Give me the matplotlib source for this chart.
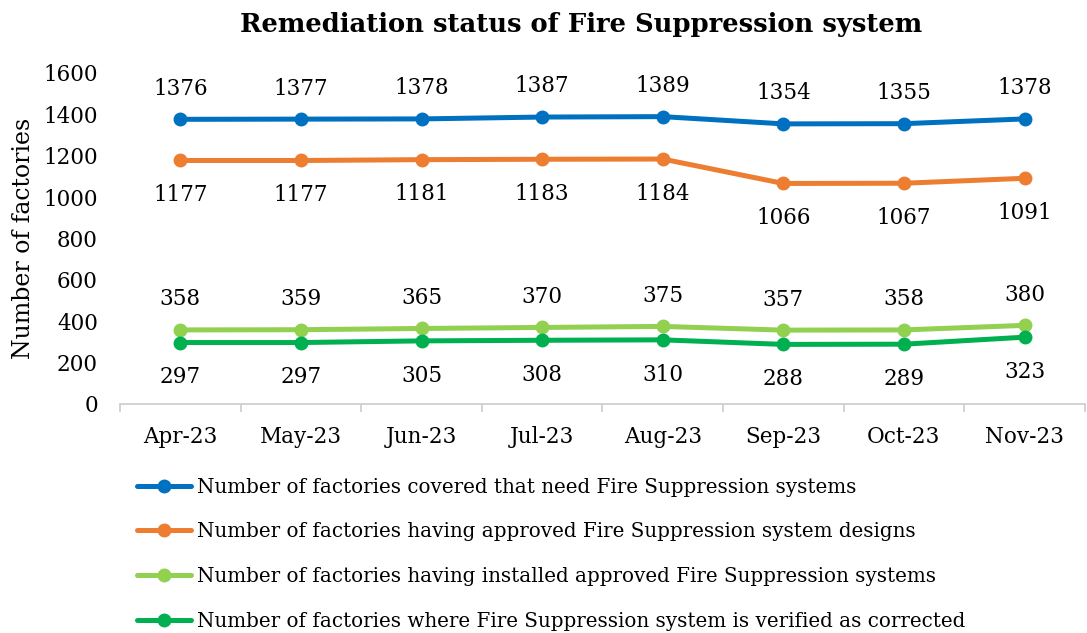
import matplotlib
matplotlib.use("Agg")
import matplotlib.pyplot as plt
import numpy as np

months = ["Apr-23", "May-23", "Jun-23", "Jul-23", "Aug-23", "Sep-23", "Oct-23", "Nov-23"]
covered = [1376, 1377, 1378, 1387, 1389, 1354, 1355, 1378]
approved = [1177, 1177, 1181, 1183, 1184, 1066, 1067, 1091]
installed = [358, 359, 365, 370, 375, 357, 358, 380]
verified = [297, 297, 305, 308, 310, 288, 289, 323]
series_names = [
    "Number of factories covered that need Fire Suppression systems",
    "Number of factories having approved Fire Suppression system designs",
    "Number of factories having installed approved Fire Suppression systems",
    "Number of factories where Fire Suppression system is verified as corrected",
]
colors = ["#0070C0", "#ED7D31", "#92D050", "#00B050"]
label_pos = ["above", "below", "above", "below"]

plt.rcParams['font.family'] = ['DejaVu Serif']

fig = plt.figure(figsize=(10.87, 6.33), dpi=100)
ax = fig.add_axes([0.1104, 0.3618, 0.8876, 0.5229])

x = np.arange(len(months))
handles = []
for vals, name, c, pos in zip([covered, approved, installed, verified], series_names, colors, label_pos):
    h, = ax.plot(x, vals, color=c, lw=3.6, marker='o', ms=9, label=name, solid_capstyle='round')
    handles.append(h)
    for xi, v in zip(x, vals):
        off = 22 if pos == "above" else -25
        ax.annotate(str(v), (xi, v), xytext=(0, off), textcoords='offset points',
                    ha='center', va='center', fontsize=15.5, color='black')

ax.set_xlim(-0.5, len(months) - 0.5)
ax.set_ylim(0, 1600)
ax.set_yticks(np.arange(0, 1601, 200))
ax.set_xticks(x)
ax.set_xticklabels(months)
ax.set_xticks(np.arange(-0.5, len(months), 1), minor=True)
ax.tick_params(axis='x', which='major', length=0, pad=16, labelsize=15.5)
ax.tick_params(axis='x', which='minor', length=6, color='#D0D0D0', width=1.3)
ax.tick_params(axis='y', length=0, labelsize=15.5, pad=16)
for s in ['top', 'right', 'left']:
    ax.spines[s].set_visible(False)
ax.spines['bottom'].set_color('#D0D0D0')
ax.spines['bottom'].set_linewidth(1.3)
ax.set_ylabel("Number of factories", fontsize=17, labelpad=6)

fig.text(0.535, 0.962, "Remediation status of Fire Suppression system", ha='center', va='center',
         fontsize=18.6, fontweight='bold')

fig.legend(handles=handles, loc='upper left', bbox_to_anchor=(0.119, 0.258), frameon=False,
           fontsize=14.3, handlelength=2.7, handletextpad=0.3, labelspacing=1.3, borderaxespad=0)

fig.savefig("out.png", dpi=100)
